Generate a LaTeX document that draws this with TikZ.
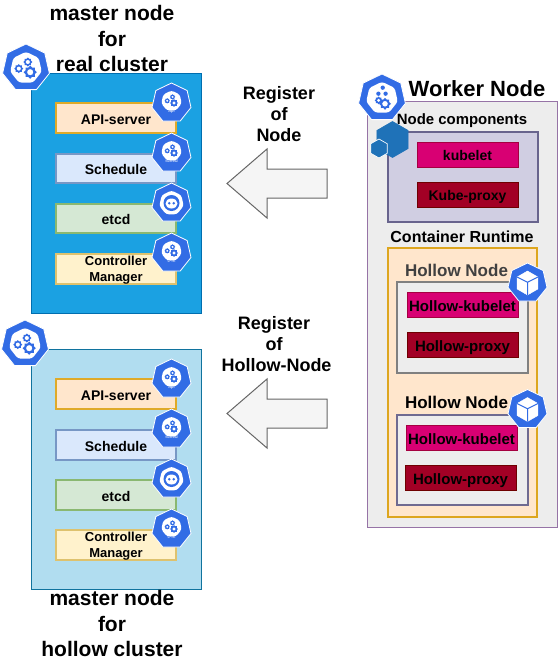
\documentclass[tikz,border=0pt]{standalone}
\usepackage{fontspec}
\setmainfont{Liberation Sans}
\usetikzlibrary{positioning}
\definecolor{kubeblue}{HTML}{326CE5}
\definecolor{hexblue}{HTML}{1F72B8}
\definecolor{skyfill}{HTML}{1BA1E2}
\definecolor{skyline}{HTML}{006EAF}
\definecolor{paleblue}{HTML}{B1DDF0}
\definecolor{palebluel}{HTML}{10739E}
\definecolor{orangefill}{HTML}{FFE6CC}
\definecolor{orangeline}{HTML}{D79B00}
\definecolor{bluefill}{HTML}{DAE8FC}
\definecolor{blueline}{HTML}{6C8EBF}
\definecolor{greenfill}{HTML}{D5E8D4}
\definecolor{greenline}{HTML}{82B366}
\definecolor{yellowfill}{HTML}{FFF2CC}
\definecolor{yellowline}{HTML}{D6B656}
\definecolor{magfill}{HTML}{D80073}
\definecolor{magline}{HTML}{A50040}
\definecolor{redfill}{HTML}{A20025}
\definecolor{redline}{HTML}{6F0000}
\definecolor{violetfill}{HTML}{D0CEE2}
\definecolor{violetline}{HTML}{56517E}
\definecolor{workerline}{HTML}{9673A6}
\newcommand{\fsize}[1]{\fontsize{#1}{#1}\selectfont\bfseries}
\tikzset{
	panel/.style={draw,inner sep=0pt,line width=.75pt},
	oneline/.style={text height=.95em,text depth=.05em},
	compbox/.style={draw,inner sep=0pt,line width=1.5pt,minimum width=90pt,minimum height=22pt,font=\fsize{10.5},align=center},
	apibox/.style={compbox,oneline,fill=orangefill,draw=orangeline!80!orangefill},
	schedbox/.style={compbox,oneline,fill=bluefill,draw=blueline!90!bluefill},
	etcdbox/.style={compbox,oneline,fill=greenfill,draw=greenline!90!greenfill},
	ctrlbox/.style={compbox,fill=yellowfill,draw=yellowline!80!yellowfill,font=\fsize{9.75},text depth=0pt},
	kubebox/.style={oneline,draw=magline,fill=magfill,inner sep=0pt,line width=.5pt,font=\fsize{10.5},minimum height=19pt},
	proxybox/.style={oneline,draw=redline,fill=redfill,inner sep=0pt,line width=.5pt,font=\fsize{10.5},minimum height=19pt},
	hollowkube/.style={kubebox,minimum width=83pt,font=\fsize{11.25}},
	hollowproxy/.style={proxybox,minimum width=83pt,font=\fsize{11.25}},
	hollowtext/.style={font=\fsize{12.75},inner sep=0pt},
	heading/.style={align=center,font=\fsize{15.75}},
	blockarrow/.style={draw=black!60,fill=black!4,line width=.75pt},
	pics/hept/.style={code={
		\filldraw[fill=kubeblue,draw=white,line width=.6pt,line join=round] (-90:20)
			\foreach \a in {1,...,6} {-- (-90+\a*51.43:20)} -- cycle;
	}},
	pics/whitehept/.style={code={
		\fill[white,rounded corners=2pt] (-90:#1)
			\foreach \a in {1,...,6} {-- (-90+\a*51.43:#1)} -- cycle;
	}},
	pics/cog/.style={code={
		\fill[kubeblue,even odd rule] (0:1.25)
			\foreach \a [evaluate=\a as \r using {mod(\a,2)==0?1.25:.95}] in {1,...,15} {-- (\a*22.5:\r)} -- cycle
			(0,0) circle (.6);
	}},
	pics/cogs/.style={code={
		\pic[transform shape,scale=4.4] at (3.5,3.5) {cog};
		\pic[transform shape,scale=3] at (1.5,-5) {cog};
		\pic[transform shape,scale=3] at (-6,.5) {cog};
	}},
	pics/mastericon/.style={code={
		\pic[transform shape] {hept};
		\pic[transform shape] {whitehept=13.5};
		\pic[transform shape] {cogs};
	}},
	pics/smallicon/.style={code={
		\pic {hept};
		\pic at (0,-2) {whitehept=10.5};
		\pic[transform shape,scale=.72] at (0,-2.5) {cogs};
		\node[white,font=\fontsize{3.5}{3.5}\selectfont,inner sep=0pt] (tag) at (0,8) {#1};
	}},
	pics/etcdicon/.style={code={
		\pic {hept};
		\pic {whitehept=12.5};
		\fill[kubeblue] (0,0) circle (8);
		\fill[white] (0,.5) ellipse (6 and 5);
		\fill[kubeblue] (-2.2,.2) circle (1.4) (2.2,.2) circle (1.4);
	}},
	pics/workericon/.style={code={
		\pic[transform shape] {hept};
		\pic[transform shape] {whitehept=13.5};
		\fill[kubeblue] (.6,-8.6) circle (1.8) (-3,-3.6) circle (1.8) (3,-3.6) circle (1.8);
		\pic[transform shape,scale=4] at (2.5,4.8) {cog};
		\pic[transform shape,scale=2.6] at (-2.8,2) {cog};
	}},
	pics/cubeicon/.style={code={
		\pic {hept};
		\filldraw[fill=white,draw=white,line join=round,line width=.3pt] (-90:12) -- (-30:12) -- (30:12) -- (90:12) -- (150:12) -- (210:12) -- cycle;
		\draw[kubeblue,line width=.75pt] (-10.4,-6) -- (0,-.8) -- (10.4,-6) (0,-.8) -- (0,12);
	}},
	pics/bluehex/.style={code={
		\filldraw[fill=hexblue,draw=#1,line width=.5pt] (-90:1) -- (-30:1) -- (30:1) -- (90:1) -- (150:1) -- (210:1) -- cycle;
	}}
}

\begin{document}
\begin{tikzpicture}[x=.75pt,y=-.75pt]
	\useasboundingbox (0,0) rectangle (558,661);
	% master panels
	\node[panel,fill=skyfill,draw=skyline,minimum width=127.5pt,minimum height=180pt] (realpanel) at (116,193) {};
	\node[panel,fill=paleblue,draw=palebluel,minimum width=127.5pt,minimum height=180pt] (hollowpanel) at (116,469) {};
	\node[apibox] (realapi) at (116,118) {API-server};
	\node[schedbox] (realsched) at (116,168.5) {Schedule};
	\node[etcdbox] (realetcd) at (116,218.5) {etcd};
	\node[ctrlbox] (realctrl) at (116,269) {Controller\\[2pt]Manager};
	\node[apibox] (hollowapi) at (116,394) {API-server};
	\node[schedbox] (hollowsched) at (116,445) {Schedule};
	\node[etcdbox] (hollowetcd) at (116,495) {etcd};
	\node[ctrlbox] (hollowctrl) at (116,545) {Controller\\[2pt]Manager};
	\pic[scale=1.2] at (26,68) {mastericon};
	\pic[scale=1.2] at (25,344) {mastericon};
	\pic at (171.5,103) {smallicon=api};
	\pic at (171.5,153) {smallicon=sched};
	\pic at (171.5,203) {etcdicon};
	\pic at (171.5,253) {smallicon=c-m};
	\pic at (171.5,379) {smallicon=api};
	\pic at (171.5,429) {smallicon=sched};
	\pic at (171.5,479) {etcdicon};
	\pic at (171.5,529) {smallicon=c-m};
	% headings
	\node[heading] (realtitle) at (112,38.5) {master node\\[3.4pt]for\\[3.4pt]real cluster};
	\node[heading] (hollowtitle) at (112,623.5) {master node\\[3.4pt]for\\[3.4pt]hollow cluster};
	\node[heading,font=\fsize{13.5}] (regnode) at (279,114) {Register\\[2.25pt]of\\[2.25pt]Node};
	\node[heading,font=\fsize{13.5}] (reghollow) at (276.5,344) {Register\kern3.75pt\\[2.25pt]of\kern3.75pt\\[2.25pt]Hollow-Node};
	% block arrows
	\draw[blockarrow] (227,183.5) -- (267,149) -- (267,169) -- (327,169) -- (327,198) -- (267,198) -- (267,218) -- cycle;
	\draw[blockarrow] (227,413.5) -- (267,379) -- (267,399) -- (327,399) -- (327,428) -- (267,428) -- (267,448) -- cycle;
	% worker
	\node[panel,fill=black!7,draw=workerline,minimum width=142.5pt,minimum height=319pt] (workerpanel) at (462,314.5) {};
	\node[font=\fsize{16.5},inner sep=0pt] (workertitle) at (477,89) {Worker Node};
	\node[panel,line width=1.5pt,fill=violetfill,draw=violetline!85!violetfill,minimum width=112.5pt,minimum height=67.5pt] (comppanel) at (463,177) {};
	\node[kubebox,minimum width=76pt] (kubelet) at (467.5,154.5) {kubelet};
	\node[proxybox,minimum width=76pt] (kubeproxy) at (467.5,194.5) {Kube-proxy};
	\pic[scale=18] at (392.5,139.5) {bluehex=hexblue};
	\pic[scale=9.5] at (379,148.5) {bluehex=white};
	\pic[scale=1.2] at (382,98) {workericon};
	\node[font=\fsize{11.2},inner sep=0pt] (comptitle) at (462,121) {Node components};
	\node[font=\fsize{12},inner sep=0pt] (runtimetitle) at (462,237) {Container Runtime};
	\node[panel,line width=1.5pt,fill=orangefill,draw=orangeline!85!orangefill,minimum width=112pt,minimum height=201.5pt] (runtimepanel) at (462.5,382.5) {};
	% hollow nodes
	\node[panel,line width=1.5pt,fill=black!7,draw=black!50,minimum width=98pt,minimum height=68pt] (hollowone) at (462.5,327.5) {};
	\node[hollowtext,text=black!75] (hollowonetitle) at (456.5,270) {Hollow Node};
	\node[hollowkube] (hollowkubeone) at (462.5,305) {Hollow-kubelet};
	\node[hollowproxy] (hollowproxyone) at (462.5,345) {Hollow-proxy};
	\node[panel,line width=1.5pt,fill=black!7,draw=violetline!85!white,minimum width=98pt,minimum height=67.5pt] (hollowtwo) at (462.5,460) {};
	\node[hollowtext] (hollowtwotitle) at (456.5,402) {Hollow Node};
	\node[hollowkube] (hollowkubetwo) at (461.5,438) {Hollow-kubelet};
	\node[hollowproxy] (hollowproxytwo) at (460.5,478) {Hollow-proxy};
	\pic at (527.5,283) {cubeicon};
	\pic at (527.5,409.5) {cubeicon};
\end{tikzpicture}
\end{document}
